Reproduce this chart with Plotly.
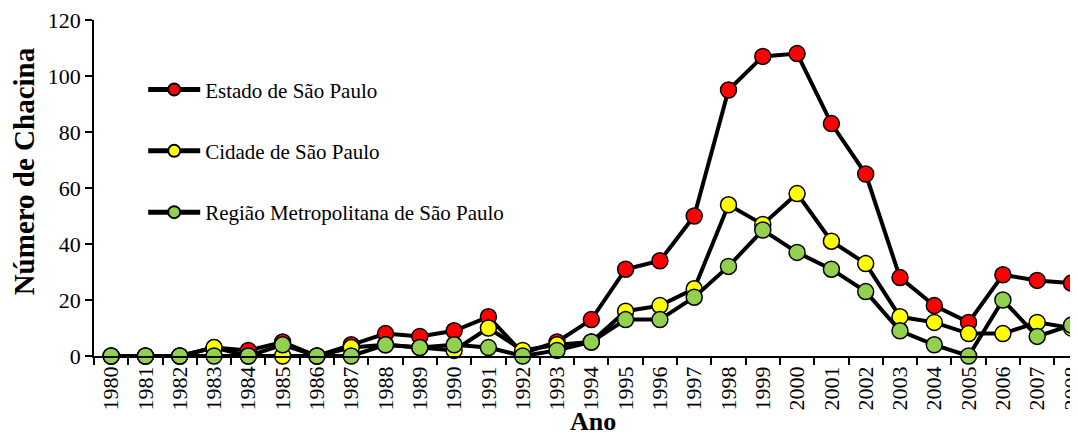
import plotly.graph_objects as go

anos = [str(a) for a in range(1980, 2009)]
estado = [0, 0, 0, 3, 2, 5, 0, 4, 8, 7, 9, 14, 1, 5, 13, 31, 34, 50, 95, 107, 108, 83, 65, 28, 18, 12, 29, 27, 26]
cidade = [0, 0, 0, 3, 0, 0, 0, 3, 4, 3, 2, 10, 2, 4, 5, 16, 18, 24, 54, 47, 58, 41, 33, 14, 12, 8, 8, 12, 10]
regiao = [0, 0, 0, 0, 0, 4, 0, 0, 4, 3, 4, 3, 0, 2, 5, 13, 13, 21, 32, 45, 37, 31, 23, 9, 4, 0, 20, 7, 11]

nomes = ["Estado de São Paulo", "Cidade de São Paulo", "Região Metropolitana de São Paulo"]
cores = ["#ff0000", "#ffff00", "#92d050"]
series = [estado, cidade, regiao]

FONT = "Liberation Serif, Times New Roman, serif"

fig = go.Figure()
for nome, cor, vals in zip(nomes, cores, series):
    fig.add_trace(go.Scatter(
        x=anos, y=vals, name=nome, mode="lines+markers",
        line=dict(color="black", width=4),
        marker=dict(size=16, color=cor, line=dict(color="black", width=1.5)),
        cliponaxis=False, legendgroup=nome,
    ))

fig.add_annotation(
    text="<b>Número de Chacina</b>", textangle=-90,
    xref="paper", yref="paper", x=-0.071, y=0.55,
    xanchor="center", yanchor="middle", showarrow=False,
    font=dict(family=FONT, size=29, color="black"),
)
fig.add_annotation(
    text="<b>Ano</b>",
    xref="paper", yref="paper", x=0.507, y=-0.196,
    xanchor="center", yanchor="middle", showarrow=False,
    font=dict(family=FONT, size=26, color="black"),
)

fig.update_layout(
    width=1070, height=424,
    margin=dict(l=86, r=0, t=12, b=76),
    paper_bgcolor="white", plot_bgcolor="white",
    font=dict(family=FONT, size=21, color="black"),
    showlegend=True,
    legend=dict(x=0.05, y=0.853, xanchor="left", yanchor="top",
                bgcolor="rgba(0,0,0,0)", tracegroupgap=31,
                itemsizing="constant", itemwidth=52,
                font=dict(family=FONT, size=21)),
    xaxis=dict(
        type="category", range=[-0.5, 28.19], automargin=False,
        showline=True, linecolor="black", linewidth=1.5,
        ticks="outside", tickson="boundaries", ticklen=7, tickcolor="black", tickwidth=1.5,
        tickangle=-90, showgrid=False, zeroline=False, ticklabeloverflow="allow",
        tickfont=dict(family=FONT, size=22),
    ),
    yaxis=dict(
        range=[0, 120], tickvals=[0, 20, 40, 60, 80, 100, 120], automargin=False,
        showline=True, linecolor="black", linewidth=1.5,
        ticks="outside", ticklen=7, tickcolor="black", tickwidth=1.5,
        showgrid=False, zeroline=False, ticklabeloverflow="allow",
        tickfont=dict(family=FONT, size=22),
    ),
)

fig.write_html("out.html")
